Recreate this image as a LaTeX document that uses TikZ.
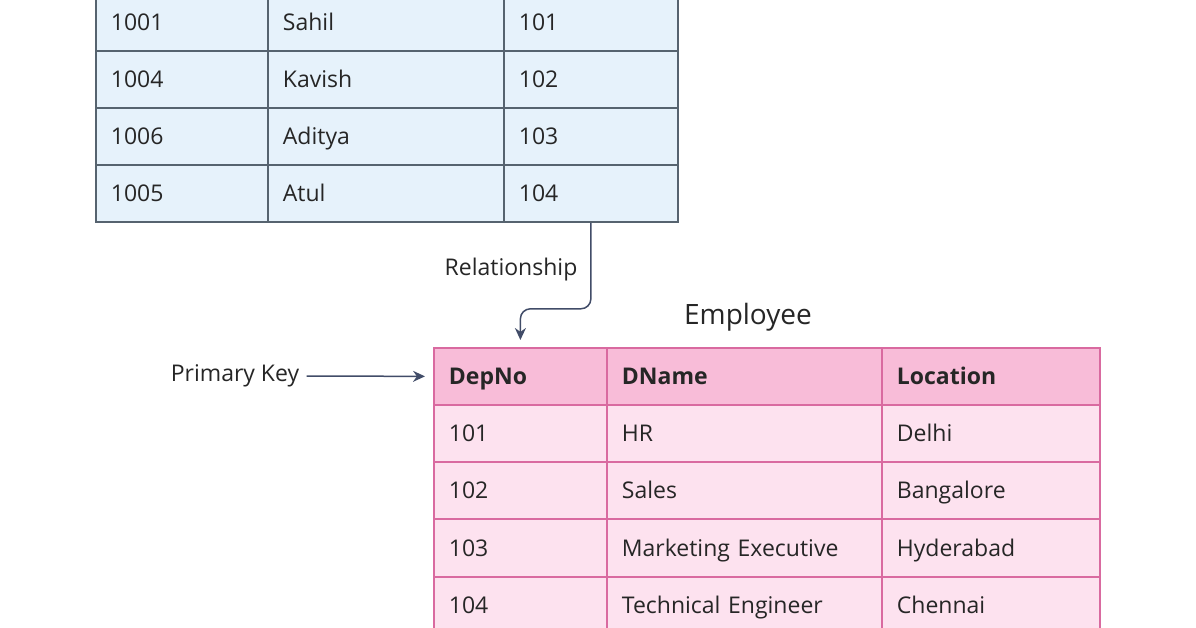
\documentclass[tikz,border=0pt]{standalone}
\usepackage{fontspec}
\setmainfont{Open Sans}
\usetikzlibrary{arrows.meta}
\definecolor{bluefill}{HTML}{E6F2FB}
\definecolor{blueline}{HTML}{56636F}
\definecolor{pinkhead}{HTML}{F8BCD8}
\definecolor{pinkfill}{HTML}{FDE2EF}
\definecolor{pinkline}{HTML}{D96AA0}
\definecolor{inktext}{HTML}{262626}
\definecolor{arrowink}{HTML}{1F2D4D}

\tikzset{
  cell/.style={draw, line width=1.8pt, minimum height=57pt, inner xsep=15pt, inner ysep=0pt,
    text height=16pt, text depth=0pt, align=left, anchor=north west, text=inktext,
    font=\fontsize{23}{26}\selectfont},
  deptcell/.style={cell, draw=blueline, fill=bluefill},
  empcell/.style={cell, draw=pinkline, fill=pinkfill},
  emphead/.style={empcell, fill=pinkhead, font=\fontsize{23}{26}\selectfont\bfseries},
  link/.style={draw=arrowink!85, line width=1.5pt, -{Stealth[length=12pt,width=11pt]}},
  tag/.style={text=inktext, font=\fontsize{23}{26}\selectfont}
}

\begin{document}
\begin{tikzpicture}[x=1pt, y=1pt]
  \clip (0,0) rectangle (1196,-628);
  \fill[white] (0,0) rectangle (1196,-628);

  \foreach \id/\nm/\dep [count=\r] in {1001/Sahil/101, 1004/Kavish/102, 1006/Aditya/103, 1005/Atul/104}{
    \node[deptcell, text width=142pt] (dept-\r-1) at (95,{64-57*\r}) {\id};
    \node[deptcell, text width=206pt] (dept-\r-2) at (267,{64-57*\r}) {\nm};
    \node[deptcell, text width=144pt] (dept-\r-3) at (503,{64-57*\r}) {\dep};
  }

  \node[tag, font=\fontsize{28}{32}\selectfont] (emptitle) at (748,-317) {Employee};
  \node[emphead, text width=143pt] (emp-0-1) at (433,-347) {DepNo};
  \node[emphead, text width=245pt] (emp-0-2) at (606,-347) {DName};
  \node[emphead, text width=188pt] (emp-0-3) at (881,-347) {Location};
  \foreach \dep/\nm/\loc [count=\r] in {101/HR/Delhi, 102/Sales/Bangalore, 103/Marketing Executive/Hyderabad, 104/Technical Engineer/Chennai}{
    \node[empcell, text width=143pt] (emp-\r-1) at (433,{-347-57.2*\r}) {\dep};
    \node[empcell, text width=245pt] (emp-\r-2) at (606,{-347-57.2*\r}) {\nm};
    \node[empcell, text width=188pt] (emp-\r-3) at (881,{-347-57.2*\r}) {\loc};
  }

  \node[tag] (rel) at (511,-270) {Relationship};
  \node[tag] (pk) at (235,-376) {Primary Key};

  \draw[link, rounded corners=10pt, shorten >=7pt] (dept-4-3.south) -- ++(0,-86) -| (emp-0-1.north);
  \draw[link, shorten <=4pt, shorten >=8pt] (pk.east) -- (emp-0-1.west);
\end{tikzpicture}
\end{document}
